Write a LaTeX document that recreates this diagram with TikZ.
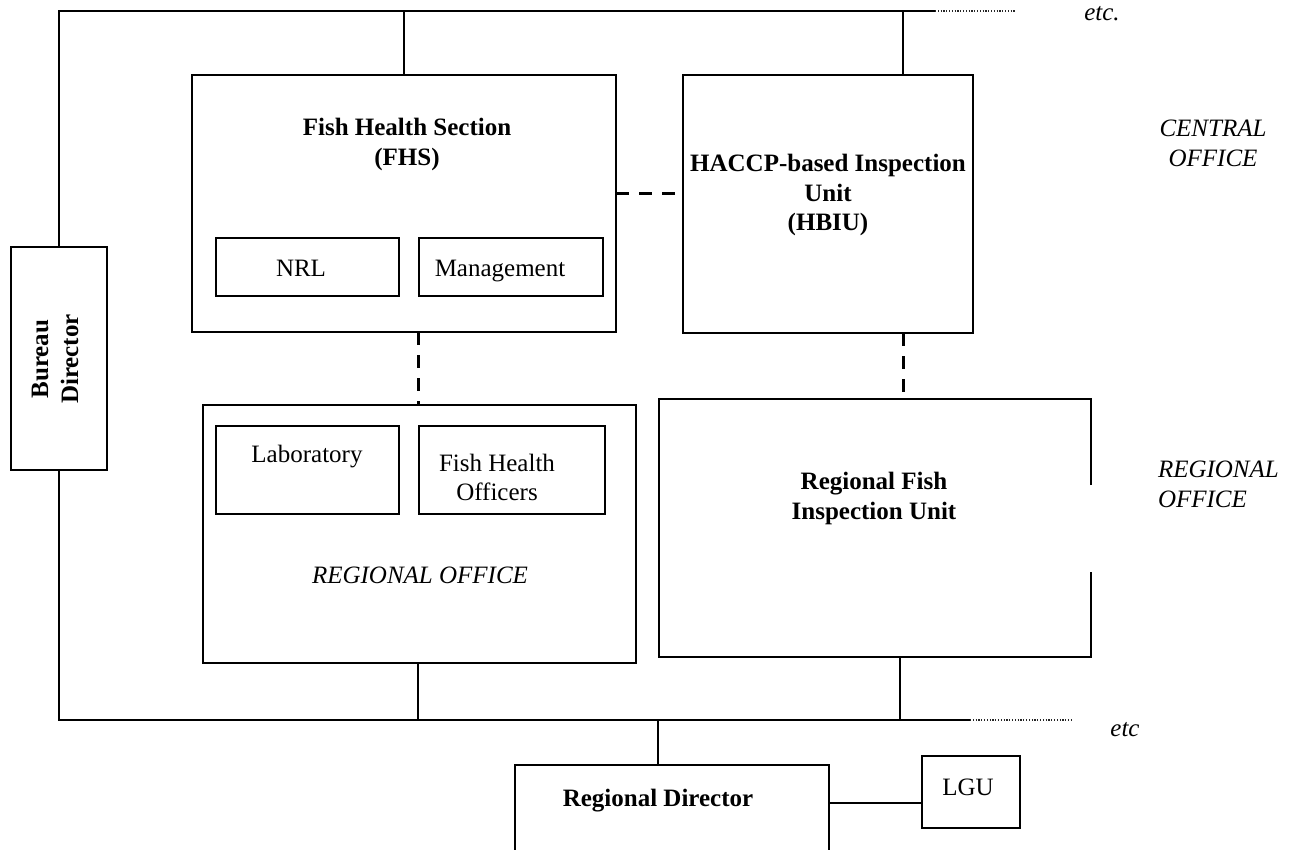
\documentclass[tikz,border=0pt]{standalone}
\usepackage{fontspec}
\setmainfont{Liberation Serif}
\usetikzlibrary{calc}
\begin{document}
\begin{tikzpicture}[x=1pt,y=-1pt,
  every node/.style={inner sep=0pt,outer sep=0pt},
  box/.style={draw,line width=1.8pt,rectangle},
  frame/.style={rectangle,draw=none},
  conn/.style={line width=1.6pt},
  dashconn/.style={line width=3pt,dash pattern=on 13pt off 10pt},
  dotconn/.style={line width=1.1pt,dash pattern=on 1.2pt off 1.6pt,black!85},
  txt/.style={anchor=base,font=\fontsize{25}{30}\selectfont},
  btxt/.style={txt,font=\fontsize{25}{30}\selectfont\bfseries},
  itxt/.style={txt,font=\fontsize{25}{30}\selectfont\itshape}]
\useasboundingbox (0,0) rectangle (1305,850);

% boxes
\node[box,minimum width=96pt,minimum height=223pt] (bureau) at (59,358.5) {};
\node[box,minimum width=424pt,minimum height=257pt] (fhs) at (404,203.5) {};
\node[box,minimum width=183pt,minimum height=58pt] (nrl) at (307.5,267) {};
\node[box,minimum width=184pt,minimum height=58pt] (mgmt) at (511,267) {};
\node[box,minimum width=290pt,minimum height=258pt] (hbiu) at (828,204) {};
\node[box,minimum width=433pt,minimum height=258pt] (regl) at (419.5,534) {};
\node[box,minimum width=183pt,minimum height=88pt] (lab) at (307.5,470) {};
\node[box,minimum width=186pt,minimum height=88pt] (fho) at (512,470) {};
\node[frame,minimum width=432pt,minimum height=258pt] (rfiu) at (875,528) {};
\node[frame,minimum width=314pt,minimum height=90pt] (rd) at (672,810) {};
\node[box,minimum width=98pt,minimum height=72pt] (lgu) at (971,792) {};

% box with gap on the right edge
\draw[line width=1.8pt] ($(rfiu.north east)+(0,86)$) -- (rfiu.north east) -- (rfiu.north west)
  -- (rfiu.south west) -- (rfiu.south east) -- ($(rfiu.south east)+(0,-85)$);
% open-bottom box
\draw[line width=1.8pt] (rd.south west) -- (rd.north west) -- (rd.north east) -- (rd.south east);

% texts
\node[btxt,rotate=90,anchor=center,align=center] (tbureau) at (55,359) {Bureau\\Director};
\node[btxt] (tfhs1) at (407,136) {Fish Health Section};
\node[btxt] (tfhs2) at (407,166) {(FHS)};
\node[txt] (tnrl) at (301,276) {NRL};
\node[txt] (tmgmt) at (500,276) {Management};
\node[btxt] (thb1) at (828,172) {HACCP-based Inspection};
\node[btxt] (thb2) at (828,202) {Unit};
\node[btxt] (thb3) at (828,231) {(HBIU)};
\node[txt] (tlab) at (307,462) {Laboratory};
\node[txt] (tfho1) at (497,471) {Fish Health};
\node[txt] (tfho2) at (497,500) {Officers};
\node[itxt] (tregl) at (420,583) {REGIONAL OFFICE};
\node[btxt] (trf1) at (874,489) {Regional Fish};
\node[btxt] (trf2) at (874,519) {Inspection Unit};
\node[btxt] (trd) at (658,806) {Regional Director};
\node[txt] (tlgu) at (968,795) {LGU};
\node[itxt] (tco1) at (1213,137) {CENTRAL};
\node[itxt] (tco2) at (1213,167) {OFFICE};
\node[itxt,anchor=base west] (tro1) at (1158,477) {REGIONAL};
\node[itxt,anchor=base west] (tro2) at (1158,507) {OFFICE};
\node[itxt] (tetc1) at (1102,21) {etc.};
\node[itxt] (tetc2) at (1125,736) {etc};

% top bus
\coordinate (tl) at (60,11);
\coordinate (tr) at (935,11);
\coordinate (te) at (1015,11);
\draw[conn] (bureau.north) -- (bureau.north |- tl) -- (tr);
\draw[dotconn] (tr) -- (te);
\draw[conn] (fhs.north) -- (fhs.north |- tl);
\coordinate (hbtop) at ($(hbiu.north west)+(220,0)$);
\draw[conn] (hbtop) -- (hbtop |- tl);

% bottom bus
\coordinate (bl) at (60,720);
\coordinate (br) at (970,720);
\coordinate (be) at (1072,720);
\draw[conn] (bureau.south) -- (bureau.south |- bl) -- (br);
\draw[dotconn] (br) -- (be);
\draw[line width=2.4pt] (463,720) -- (500,720);
\coordinate (rlbot) at ($(regl.south west)+(215,0)$);
\draw[conn] (rlbot) -- (rlbot |- bl);
\coordinate (rfbot) at ($(rfiu.south west)+(241,0)$);
\draw[conn] (rfbot) -- (rfbot |- bl);
\coordinate (rdtop) at ($(rd.north west)+(143,0)$);
\draw[conn] (rdtop) -- (rdtop |- bl);
\coordinate (rdr) at ($(rd.north east)+(0,38)$);
\draw[conn] (rdr) -- (lgu.west |- rdr);

% dashed links
\coordinate (fhsr) at ($(fhs.north east)+(0,119)$);
\draw[dashconn] (fhsr) -- (hbiu.west |- fhsr);
\coordinate (fhsb) at ($(fhs.south west)+(226,0)$);
\draw[dashconn] (fhsb) -- (regl.north -| fhsb);
\coordinate (hbb) at ($(hbiu.south west)+(220,0)$);
\draw[dashconn] (hbb) -- (rfiu.north -| hbb);
\end{tikzpicture}
\end{document}
